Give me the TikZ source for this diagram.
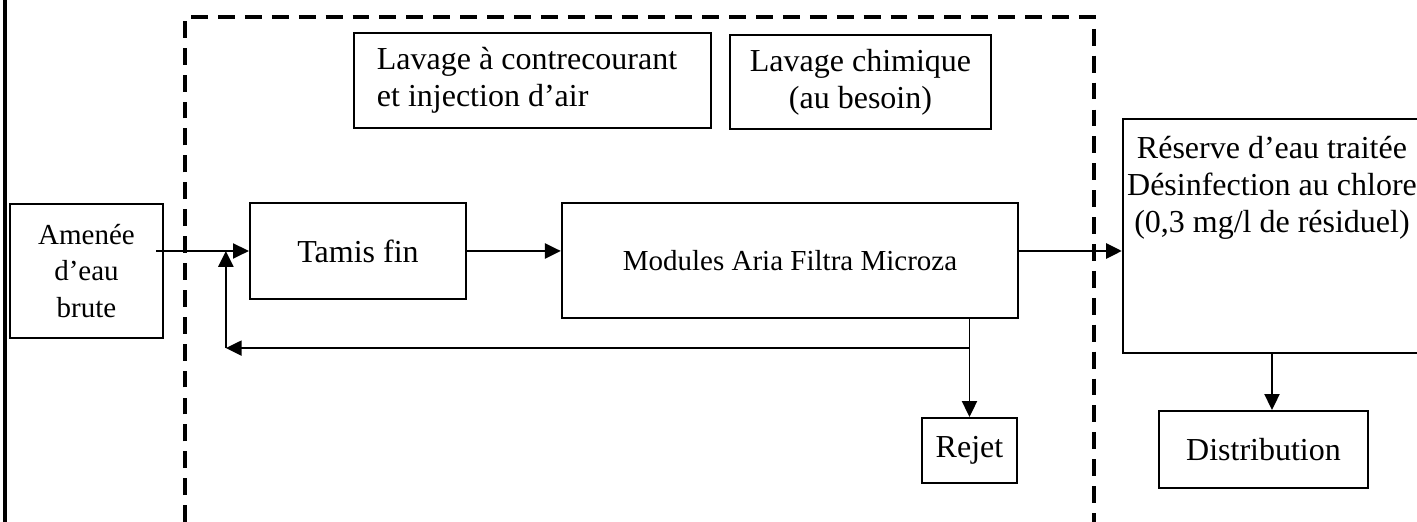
\documentclass[tikz,border=0pt]{standalone}
\usepackage{fontspec}
\setmainfont{Liberation Serif}
\usetikzlibrary{arrows.meta, calc}
\tikzset{
    procbox/.style={rectangle, draw=black, line width=0.6pt, align=center, inner sep=0pt, font=\fontsize{9.1}{10.5}\selectfont},
    arrow/.style={-{Triangle[length=4.5pt, width=4.3pt]}, line width=0.5pt},
    thickarrow/.style={arrow, line width=0.8pt},
    frameline/.style={line width=1.15pt, dash pattern=on 4.8pt off 2.85pt},
}

\begin{document}
\begin{tikzpicture}[x=0.01cm, y=-0.01cm,
  smallbox/.style={procbox, font=\fontsize{8.25}{10.5}\selectfont}
]
\useasboundingbox (0,0) rectangle (1417,522);

% Frame lines
\draw[line width=1.3pt] (5,0) -- (5,522);
\draw[frameline] (185,522) -- (185,17) -- (1094,17) -- (1094,522);

% Washing steps
\node[procbox, minimum width=3.57cm, minimum height=0.95cm, text width=3.11cm, align=flush left] (lcc) at (532.5,80.5) {Lavage à contrecourant\\et injection d’air};
\node[procbox, minimum width=2.61cm, minimum height=0.94cm] (lch) at (860.5,82) {Lavage chimique\\(au besoin)};

% Main line
\node[smallbox, minimum width=1.53cm, minimum height=1.34cm] (ame) at (86.5,271) {Amenée\\d’eau\\brute};
\node[procbox, minimum width=2.16cm, minimum height=0.96cm] (tam) at (358,251) {Tamis fin};
\node[smallbox, minimum width=4.56cm, minimum height=1.15cm] (mod) at (790,260.5) {Modules Aria Filtra Microza};
\node[procbox, minimum width=0.95cm, minimum height=0.65cm] (rej) at (969.5,450.5) {Rejet};
\node[procbox, minimum width=2.98cm, minimum height=2.34cm,
  label={[procbox, draw=none, anchor=north, yshift=-0.17cm]north:{Réserve d’eau traitée\\Désinfection au chlore\\(0,3 mg/l de résiduel)}}] (res) at (1272,236) {};
\node[procbox, minimum width=2.09cm, minimum height=0.77cm] (dis) at (1263.5,449.5) {Distribution};

% Connections
\draw[arrow] ($(ame.east |- tam.west)+(-8,0)$) -- (tam.west);
\draw[arrow] (tam.east) -- (tam.east -| mod.west);
\draw[thickarrow] (mod.east |- tam.east) -- (res.west |- tam.east);
\draw[arrow] (rej.north |- mod.south) -- (rej.north);
\coordinate (split) at ($(rej.north |- mod.south)+(0,29)$);
\coordinate (turn) at ($(split -| tam.west)+(-23,0)$);
\draw[arrow] (split) -- (turn);
\draw[arrow] (turn) -- (turn |- tam.west);
\draw[arrow] (res.south) -- (res.south |- dis.north);
\end{tikzpicture}
\end{document}
